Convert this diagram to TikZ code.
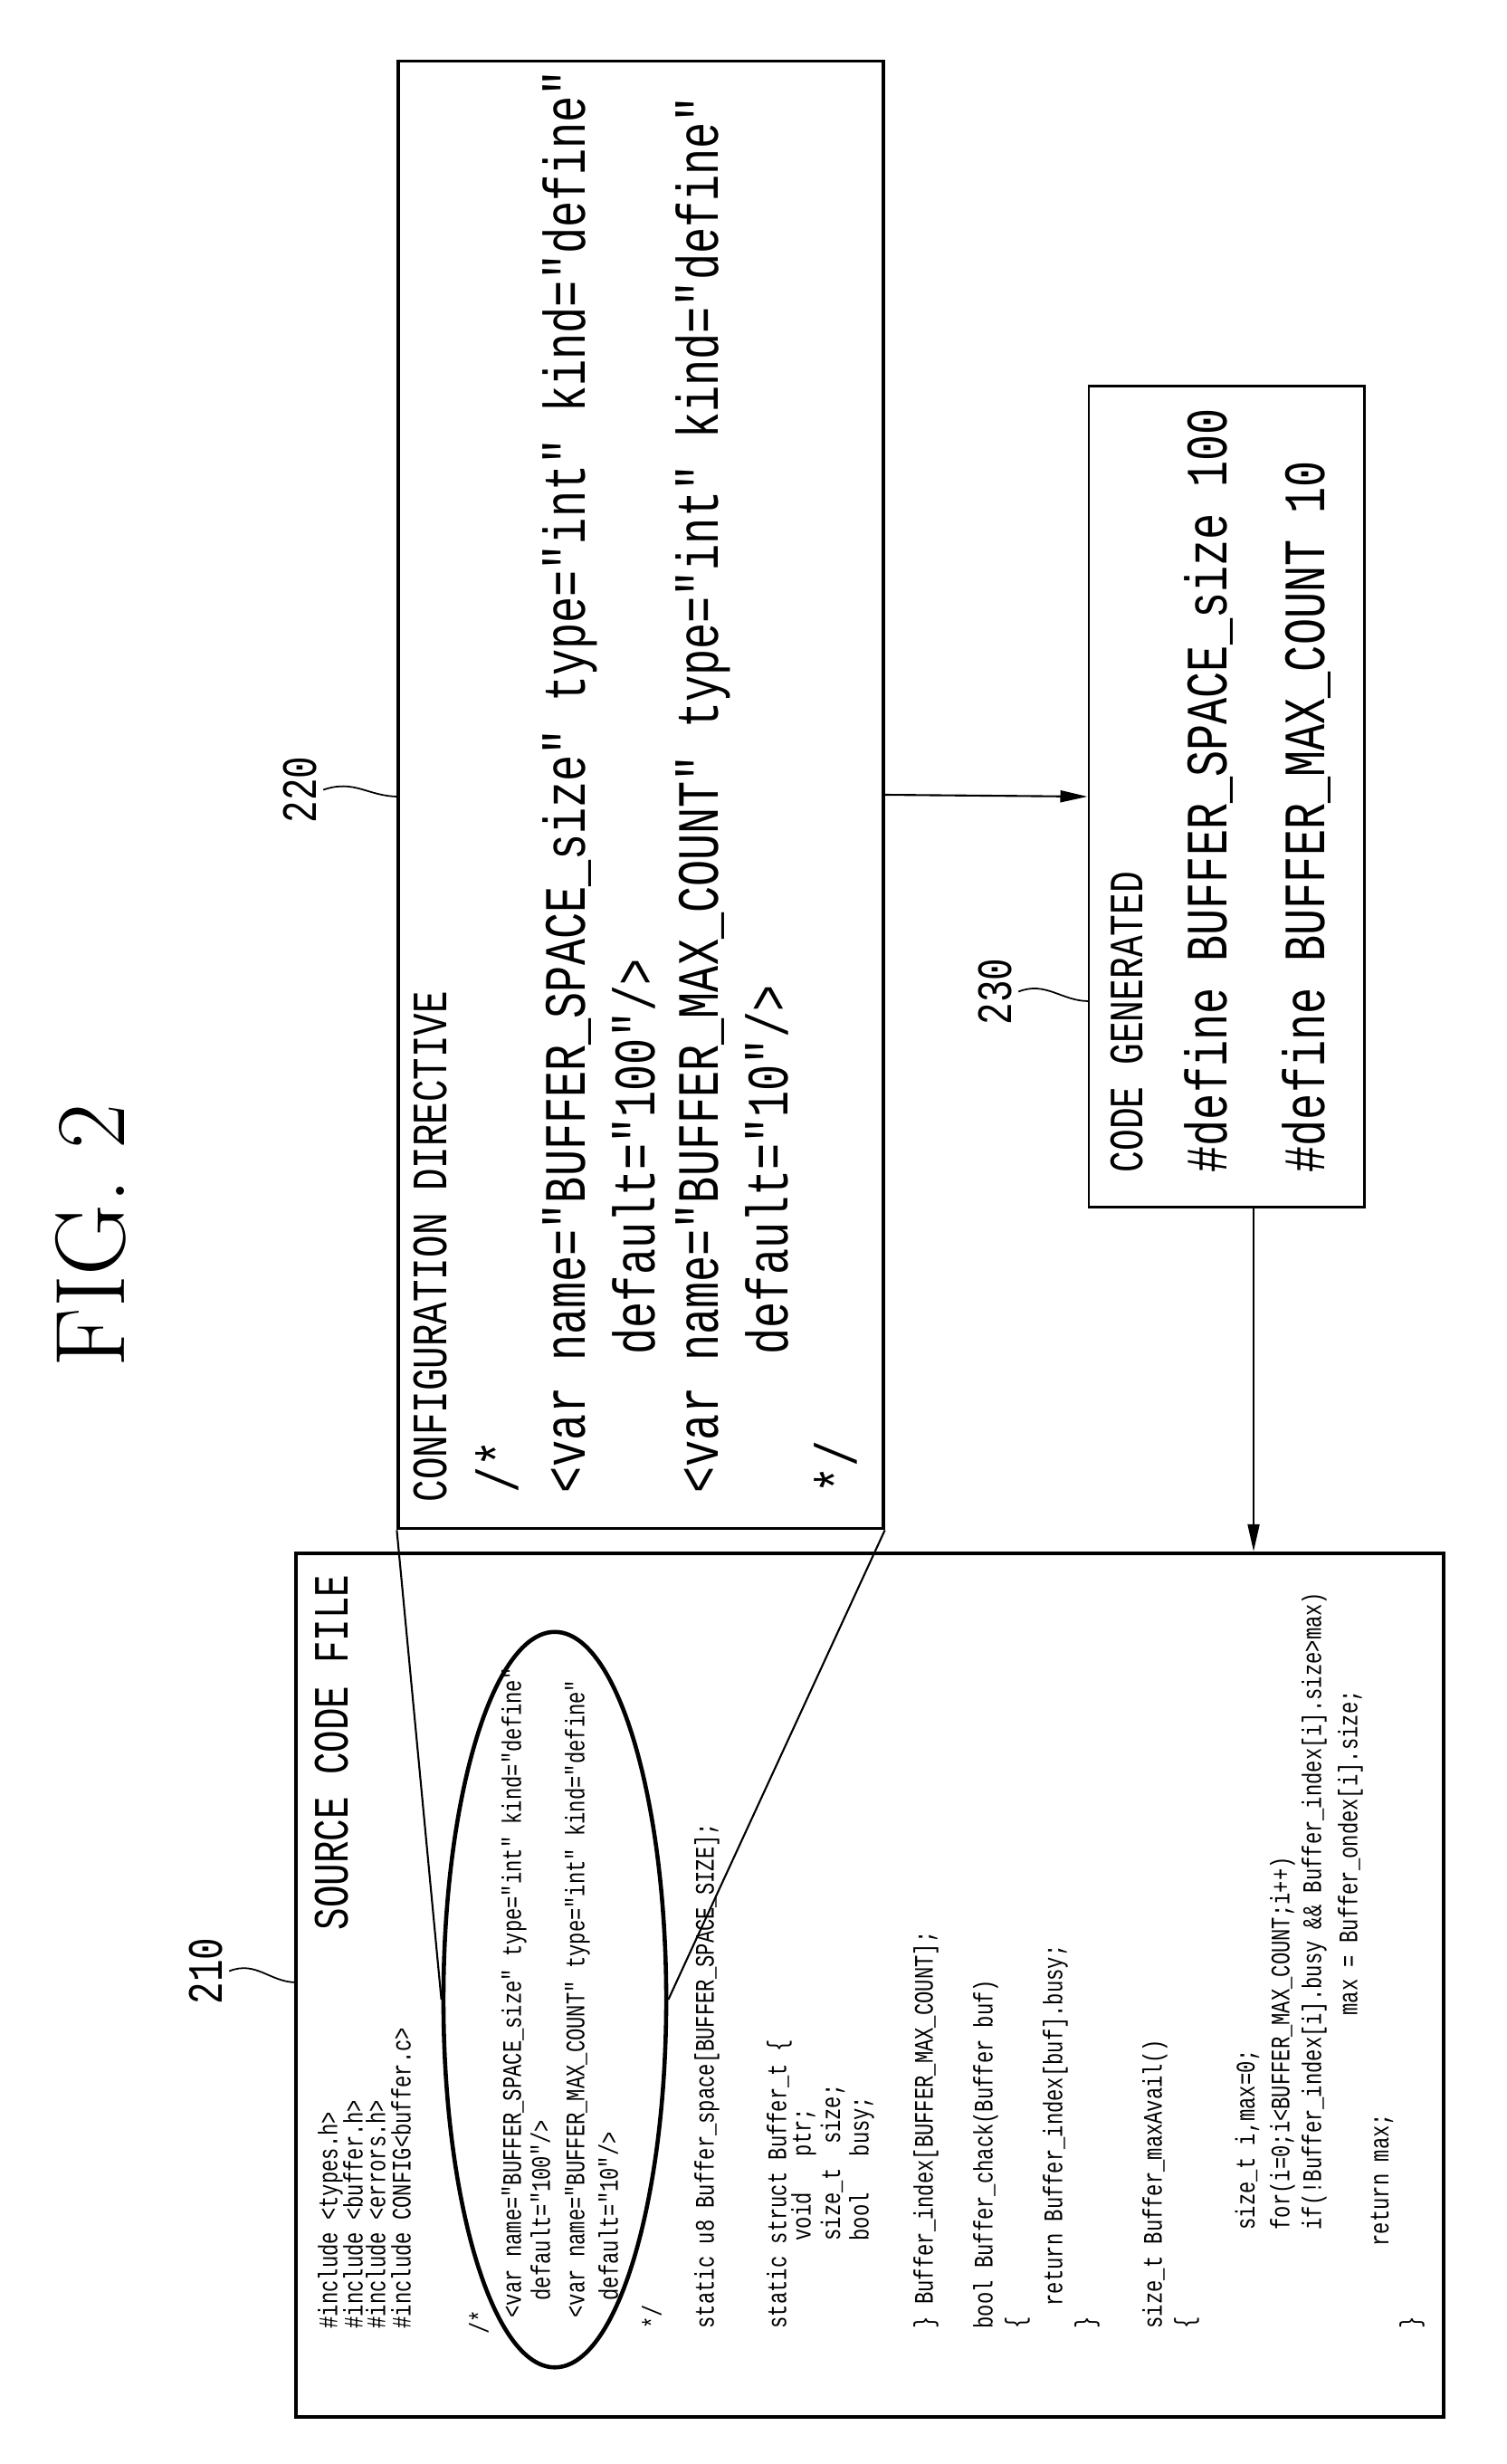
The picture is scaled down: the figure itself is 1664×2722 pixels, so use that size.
\documentclass[tikz,border=0pt]{standalone}
\usepackage{fontspec}
\newfontfamily\codefont{Liberation Mono}[FakeStretch=0.75]
\usetikzlibrary{arrows.meta}
\usetikzlibrary{shapes.geometric}

\tikzset{
  code/.style={rotate=90, anchor=west, inner sep=0pt},
  small/.style={code, font=\codefont\fontsize{8.4}{10}\selectfont},
  big/.style={code, font=\codefont\fontsize{18.4}{20}\selectfont},
  head/.style={code, font=\codefont\fontsize{15.5}{18}\selectfont},
  box/.style={draw, line width=1.1pt, inner sep=0pt},
  arr/.style={-{Triangle[length=3mm,width=1.3mm]}, line width=0.6pt},
}

\begin{document}
\begin{tikzpicture}[x=0.01cm, y=-0.01cm]
                \useasboundingbox (0,0) rectangle (1664,2722);
                \node[rotate=90, font=\rmfamily\fontsize{31}{31}\selectfont] (fig) at (100,1365) {FIG.\ 2};
                % boxes
                \node[box, minimum width=5.35cm, minimum height=16.2cm] (cfg) at (708,878) {};
                \node[box, line width=0.8pt, minimum width=3.04cm, minimum height=9.07cm] (gen) at (1355,880) {};
                \node[box, minimum width=12.67cm, minimum height=9.54cm] (src) at (961,2193) {};
                \node[draw, ellipse, line width=1.3pt, minimum width=2.46cm, minimum height=8.12cm, inner sep=0pt] (ell) at (613,2209) {};
                % configuration directive
                \node[head] at (476,1660) {CONFIGURATION DIRECTIVE};
                \foreach \x/\y/\t in {549/1650/{/*},
                    630/1650/{<var name="BUFFER\_SPACE\_size" type="int" kind="define"},
                    700/1497/{default="100"/>},
                    777/1650/{<var name="BUFFER\_MAX\_COUNT" type="int" kind="define"},
                    847/1497/{default="10"/>},
                    923/1650/{*/}}
                    \node[big] at (\x,\y) {\t};
                % generated code
                \node[head, font=\codefont\fontsize{15}{18}\selectfont] at (1245,1296) {CODE GENERATED};
                \node[big] at (1336,1296) {\#define BUFFER\_SPACE\_size 100};
                \node[big] at (1444,1296) {\#define BUFFER\_MAX\_COUNT 10};
                % source code file
                \node[head] at (367,2133) {SOURCE CODE FILE};
                \foreach \x/\y/\t in {365/2573/{\#include <types.h>},
                    390/2573/{\#include <buffer.h>},
                    415/2573/{\#include <errors.h>},
                    443/2573/{\#include CONFIG<buffer.c>},
                    529/2579/{/*},
                    568/2561/{<var name="BUFFER\_SPACE\_size" type="int" kind="define"},
                    597/2542/{default="100"/>},
                    638/2561/{<var name="BUFFER\_MAX\_COUNT" type="int" kind="define"},
                    672/2542/{default="10"/>},
                    720/2573/{*/},
                    781/2573/{static u8 Buffer\_space[BUFFER\_SPACE\_SIZE];},
                    861/2573/{static struct Buffer\_t \{},
                    888/2476/{void\ \ \ ptr;},
                    920/2476/{size\_t\ \ size;},
                    952/2476/{bool\ \ \ busy;},
                    1023/2573/{\} Buffer\_index[BUFFER\_MAX\_COUNT];},
                    1089/2573/{bool Buffer\_chack(Buffer buf)},
                    1124/2573/{\{},
                    1166/2548/{return Buffer\_index[buf].busy;},
                    1201/2573/{\}},
                    1276/2573/{size\_t Buffer\_maxAvail()},
                    1311/2573/{\{},
                    1378/2464/{size\_t i,max=0;},
                    1417/2464/{for(i=0;i<BUFFER\_MAX\_COUNT;i++)},
                    1452/2464/{if(!Buffer\_index[i].busy \&\& Buffer\_index[i].size>max)},
                    1492/2227/{max = Buffer\_ondex[i].size;},
                    1527/2482/{return max;},
                    1560/2573/{\}}}
                    \node[small] at (\x,\y) {\t};
                % reference numbers
                \node[head] (n220) at (332,910) {220};
                \node[head] (n230) at (1100,1133) {230};
                \node[head] (n210) at (228,2215) {210};
                \coordinate (t220) at (441,880);
                \coordinate (t230) at (1203,1106);
                \coordinate (t210) at (328,2190);
                \draw[line width=0.5pt] (n220.south) ++(6,0) .. controls +(35,-12) and +(-35,0) .. (t220);
                \draw[line width=0.5pt] (n230.south) ++(6,0) .. controls +(30,-12) and +(-30,0) .. (t230);
                \draw[line width=0.5pt] (n210.south) ++(6,0) .. controls +(30,-12) and +(-30,0) .. (t210);
                % connectors
                \draw[line width=0.6pt] (cfg.south west) -- (ell.west);
                \draw[line width=0.6pt] (cfg.south east) -- (ell.east);
                \draw[arr] (cfg.east) -- (gen.west);
                \draw[arr] ([xshift=0.3cm]gen.south) -- ([xshift=0.3cm]gen.south |- src.north);
            \end{tikzpicture}
\end{document}
